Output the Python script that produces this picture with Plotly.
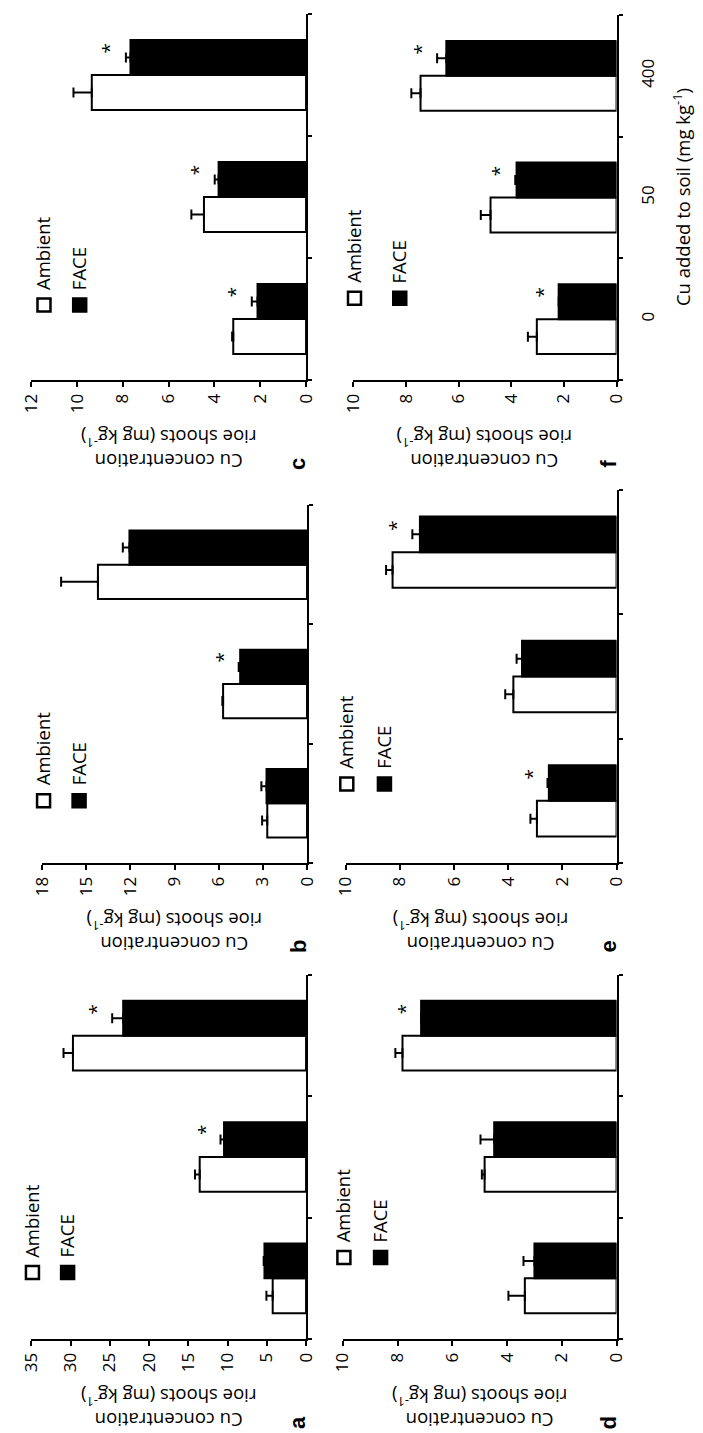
import plotly.graph_objects as go

# Cu dose added to soil (categories) and the two CO2 treatments
doses = ["0", "50", "400"]

# Cu concentration in rice shoots (mg kg-1): means and SE per panel
a_ambient = [4.25, 13.55, 29.7]
a_ambient_se = [0.8, 0.6, 1.2]
a_face = [5.3, 10.45, 23.3]
a_face_se = [0.1, 0.45, 1.4]
a_signif = [False, True, True]

b_ambient = [2.7, 5.7, 14.2]
b_ambient_se = [0.35, 0.05, 2.5]
b_face = [2.75, 4.54, 12.06]
b_face_se = [0.35, 0.1, 0.45]
b_signif = [False, True, False]

c_ambient = [3.18, 4.46, 9.36]
c_ambient_se = [0.05, 0.55, 0.8]
c_face = [2.12, 3.82, 7.67]
c_face_se = [0.25, 0.17, 0.2]
c_signif = [True, True, True]

d_ambient = [3.35, 4.82, 7.82]
d_ambient_se = [0.6, 0.1, 0.26]
d_face = [3.0, 4.47, 7.14]
d_face_se = [0.4, 0.5, 0.0]
d_signif = [False, False, True]

e_ambient = [2.94, 3.81, 8.27]
e_ambient_se = [0.24, 0.3, 0.24]
e_face = [2.5, 3.49, 7.26]
e_face_se = [0.05, 0.2, 0.28]
e_signif = [True, False, True]

f_ambient = [3.03, 4.79, 7.45]
f_ambient_se = [0.34, 0.37, 0.35]
f_face = [2.2, 3.8, 6.47]
f_face_se = [0.0, 0.05, 0.35]
f_signif = [True, True, True]

# value-axis ticks per panel
a_ticks = [0, 5, 10, 15, 20, 25, 30, 35]
b_ticks = [0, 3, 6, 9, 12, 15, 18]
c_ticks = [0, 2, 4, 6, 8, 10, 12]
d_ticks = [0, 2, 4, 6, 8, 10]
e_ticks = [0, 2, 4, 6, 8, 10]
f_ticks = [0, 2, 4, 6, 8, 10]

y_title = "Cu concentration<br>rioe shoots (mg kg<sup>-1</sup>)"
x_title = "Cu added to soil (mg kg<sup>-1</sup>)"

W, H = 703, 1433
FONT = "Open Sans"
TXT = 18.5   # titles and legend
TICK = 17    # tick labels

# The figure is laid out sideways: each panel has horizontal bars,
# value axis along the bottom (0 at the right) and doses stacked upwards.
panels = [
    # letter, ambient, amb se, face, face se, signif, ticks, box(x0,x1,top,bottom), legend(xw,xf,y)
    ("a", a_ambient, a_ambient_se, a_face, a_face_se, a_signif, a_ticks, (20, 304, 975, 1339), (0.004, 0.132, 0.183)),
    ("b", b_ambient, b_ambient_se, b_face, b_face_se, b_signif, b_ticks, (31, 305, 505, 863), (0.006, 0.140, 0.174)),
    ("c", c_ambient, c_ambient_se, c_face, c_face_se, c_signif, c_ticks, (20, 304, 14, 380), (0.046, 0.176, 0.205)),
    ("d", d_ambient, d_ambient_se, d_face, d_face_se, d_signif, d_ticks, (342, 625, 975, 1339), (0.004, 0.138, 0.224)),
    ("e", e_ambient, e_ambient_se, e_face, e_face_se, e_signif, e_ticks, (345, 625, 490, 863), (0.004, 0.143, 0.212)),
    ("f", f_ambient, f_ambient_se, f_face, f_face_se, f_signif, f_ticks, (353, 625, 15, 380), (0.004, 0.176, 0.224)),
]

BAR_W = 0.287  # thickness of one bar in category units

fig = go.Figure()
annotations = []
shapes = []
layout_axes = {}

for i, (letter, amb, amb_se, face, face_se, sig, ticks, box, leg) in enumerate(panels, start=1):
    sfx = "" if i == 1 else str(i)
    xa, ya = f"x{sfx}", f"y{sfx}"
    x0, x1, top, bottom = box
    xmax = ticks[-1]

    fig.add_trace(go.Bar(
        x=amb, y=doses, orientation="h", name="Ambient", showlegend=False,
        xaxis=xa, yaxis=ya, width=BAR_W, offset=-BAR_W,
        marker=dict(color="white", line=dict(color="black", width=2)),
        error_x=dict(type="data", symmetric=False, array=amb_se, arrayminus=[0] * len(amb),
                     color="black", thickness=2, width=5),
    ))
    fig.add_trace(go.Bar(
        x=face, y=doses, orientation="h", name="FACE", showlegend=False,
        xaxis=xa, yaxis=ya, width=BAR_W, offset=0,
        marker=dict(color="black", line=dict(color="black", width=2)),
        error_x=dict(type="data", symmetric=False, array=face_se, arrayminus=[0] * len(face),
                     color="black", thickness=2, width=5),
    ))

    layout_axes[f"xaxis{sfx}"] = dict(
        domain=[x0 / W, x1 / W], anchor=ya, range=[xmax, 0],
        tickmode="array", tickvals=ticks, ticktext=[str(t) for t in ticks],
        tickangle=-90, ticks="outside", ticklen=5, tickwidth=2, tickcolor="black",
        showline=True, linecolor="black", linewidth=2,
        showgrid=False, zeroline=False,
        tickfont=dict(family=FONT, size=TICK, color="black"),
    )
    layout_axes[f"yaxis{sfx}"] = dict(
        domain=[1 - bottom / H, 1 - top / H], anchor=xa, side="right",
        type="category", categoryorder="array", categoryarray=doses, range=[-0.5, 2.5],
        ticks="outside", tickson="boundaries", ticklen=4, tickwidth=2, tickcolor="black",
        showline=True, linecolor="black", linewidth=2,
        showgrid=False, zeroline=False,
        showticklabels=(letter == "f"), tickangle=-90, ticklabelstandoff=15,
        tickfont=dict(family=FONT, size=TICK, color="black"),
    )

    # significance asterisks beside the FACE bars
    for k, flag in enumerate(sig):
        if flag:
            annotations.append(dict(
                x=face[k] + face_se[k], y=k + BAR_W / 2, xref=xa, yref=ya,
                text="*", showarrow=False, textangle=-90,
                xanchor="center", yanchor="middle", xshift=-16, yshift=9,
                font=dict(family=FONT, size=19, color="black"),
            ))

    # legend squares and labels
    xw, xf, ly = leg
    for lx, fill, label in ((xw, "white", "Ambient"), (xf, "black", "FACE")):
        shapes.append(dict(
            type="rect", xref=f"{xa} domain", yref=f"{ya} domain",
            xsizemode="pixel", ysizemode="pixel", xanchor=lx, yanchor=ly,
            x0=-6.5, x1=6.5, y0=-6.5, y1=6.5,
            line=dict(color="black", width=2.5), fillcolor=fill,
        ))
        annotations.append(dict(
            x=lx, y=ly, xref=f"{xa} domain", yref=f"{ya} domain",
            text=label, showarrow=False, textangle=-90,
            xanchor="center", yanchor="bottom", xshift=-1, yshift=13,
            font=dict(family=FONT, size=TXT, color="black"),
        ))

    # value-axis title, reading upside down in this orientation
    annotations.append(dict(
        x=0.5, y=0, xref=f"{xa} domain", yref=f"{ya} domain",
        text=y_title, showarrow=False, textangle=180, align="center",
        xanchor="center", yanchor="middle", yshift=-70, borderpad=0,
        font=dict(family=FONT, size=TXT, color="black"),
    ))
    # panel letter
    annotations.append(dict(
        x=1, y=0, xref=f"{xa} domain", yref=f"{ya} domain",
        text=f"<b>{letter}</b>", showarrow=False, textangle=-90,
        xanchor="center", yanchor="middle", xshift=-9, yshift=-84,
        font=dict(family="Liberation Sans", size=22, color="black"),
    ))

# dose-axis title beside panel f
annotations.append(dict(
    x=1, y=0.5, xref="x6 domain", yref="y6 domain",
    text=x_title, showarrow=False, textangle=-90,
    xanchor="center", yanchor="middle", xshift=65,
    font=dict(family=FONT, size=TXT, color="black"),
))

fig.update_layout(
    width=W, height=H, autosize=False,
    margin=dict(l=0, r=0, t=0, b=0),
    paper_bgcolor="white", plot_bgcolor="white",
    barmode="overlay", showlegend=False,
    annotations=annotations, shapes=shapes,
    **layout_axes,
)

fig.write_html("out.html")
